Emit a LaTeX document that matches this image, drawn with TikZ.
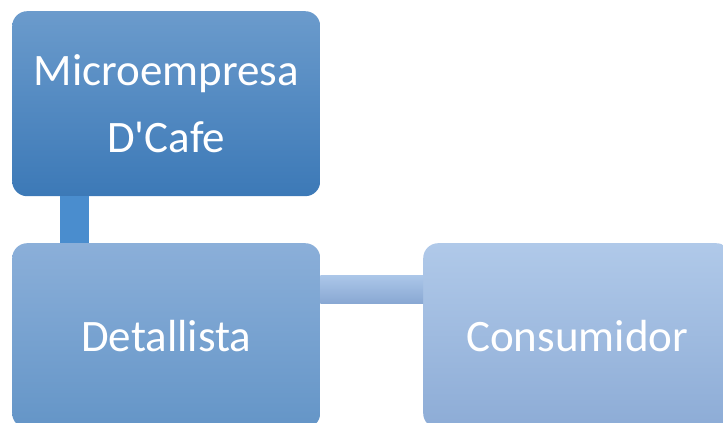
\documentclass[tikz,border=0pt]{standalone}
\usepackage{fontspec}
\setmainfont{Carlito}
\usetikzlibrary{calc}
\definecolor{bA}{HTML}{6B9BCC}
\definecolor{bB}{HTML}{3C79B7}
\definecolor{dA}{HTML}{8BAFD9}
\definecolor{dB}{HTML}{6495C7}
\definecolor{cA}{HTML}{B0C9E9}
\definecolor{cB}{HTML}{8DACD6}
\definecolor{vC}{HTML}{4A8DCE}
\definecolor{hA}{HTML}{ACC7E9}
\definecolor{hB}{HTML}{89A8D3}
\tikzset{
  box/.style={rectangle, rounded corners=15pt, minimum width=308pt, minimum height=185pt,
    inner sep=0pt, anchor=north west, text=white, align=center,
    font=\fontsize{45}{67}\selectfont},
}
\begin{document}
\begin{tikzpicture}[x=1pt,y=-1pt]
\useasboundingbox (0,0) rectangle (723,423);
\node[box, top color=bA, bottom color=bB] (b1) at (12,11) {Microempresa\\D\textquotesingle Cafe};
\node[box, top color=dA, bottom color=dB] (b2) at (12,243) {Detallista};
\node[box, top color=cA, bottom color=cB] (b3) at (423,243) {Consumidor};
\fill[vC] ($(b1.south west)+(48,0)$) rectangle ($(b2.north west)+(77,0)$);
\path[top color=hA, bottom color=hB] ($(b2.north east)+(0,32)$) rectangle ($(b3.north west)+(0,60)$);
\end{tikzpicture}
\end{document}
